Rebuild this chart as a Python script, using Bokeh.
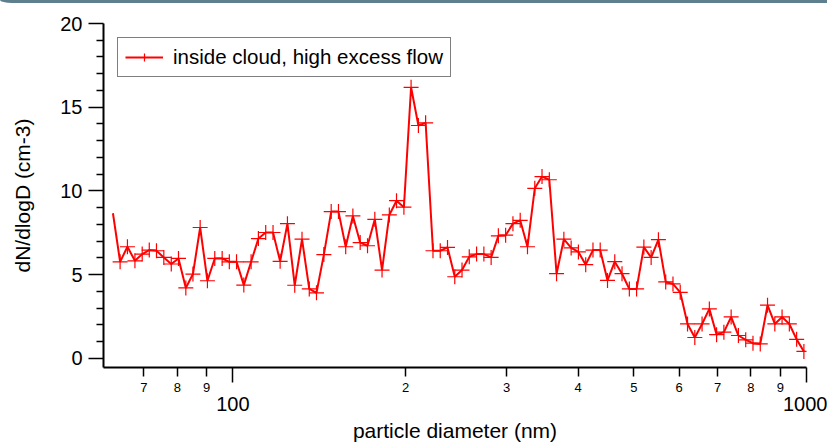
from bokeh.plotting import figure
from bokeh.models import (Range1d, LogAxis, FixedTicker, CustomJSTickFormatter,
                          Legend, LegendItem, Div)
from bokeh.layouts import column
from bokeh.embed import file_html
from bokeh.resources import INLINE

# ---- data ----
diameter_nm = [
    61.8, 63.6, 65.5, 67.5, 69.5, 71.5, 73.6, 75.8, 78.1, 80.4,
    82.8, 85.2, 87.7, 90.3, 93.0, 95.8, 98.6, 101.5, 104.5, 107.6,
    110.8, 114.1, 117.5, 120.9, 124.5, 128.2, 132.0, 135.9, 139.9, 144.1,
    148.4, 152.8, 157.3, 161.9, 166.7, 171.7, 176.8, 182.0, 187.4, 192.9,
    198.7, 204.5, 210.6, 216.8, 223.3, 229.9, 236.7, 243.7, 250.9, 258.3,
    266.0, 273.9, 282.0, 290.3, 298.9, 307.8, 316.9, 326.3, 336.0, 345.9,
    356.2, 366.7, 377.6, 388.8, 400.3, 412.2, 424.4, 436.9, 449.9, 463.2,
    476.9, 491.1, 505.6, 520.6, 536.0, 551.9, 568.3, 585.1, 602.4, 620.3,
    638.7, 657.6, 677.1, 697.1, 717.8, 739.0, 760.9, 783.5, 806.7, 830.6,
    855.2, 880.6, 906.6, 933.5, 961.2, 989.6,
]
dn_dlogd = [
    8.67, 5.77, 6.67, 5.83, 6.23, 6.47, 6.43, 6.03, 5.64, 5.97,
    4.21, 5.04, 7.82, 4.64, 5.97, 5.97, 5.77, 5.77, 4.38, 5.77,
    7.16, 7.52, 7.52, 5.80, 8.05, 4.37, 7.12, 4.15, 3.92, 6.20,
    8.77, 8.77, 6.67, 8.51, 6.92, 6.73, 8.31, 5.28, 8.57, 9.42,
    9.03, 16.19, 13.91, 14.07, 6.43, 6.43, 6.63, 4.88, 5.28, 6.07,
    6.23, 6.23, 6.03, 7.32, 7.36, 8.05, 8.25, 6.67, 10.16, 10.86,
    10.67, 5.06, 7.12, 6.60, 6.36, 5.60, 6.47, 6.47, 4.66, 5.78,
    5.06, 4.15, 4.15, 6.65, 6.03, 7.09, 4.57, 4.45, 3.95, 2.06,
    1.25, 2.06, 2.96, 1.42, 1.57, 2.48, 1.37, 1.11, 0.91, 0.87,
    3.18, 2.06, 2.48, 2.06, 1.14, 0.42,
]
series_label = "inside cloud, high excess flow"
x_title = "particle diameter (nm)"
y_title = "dN/dlogD (cm-3)"
x_major_ticks = [100, 1000]
x_minor_ticks = [70, 80, 90, 200, 300, 400, 500, 600, 700, 800, 900]
y_major_ticks = [0, 5, 10, 15, 20]
y_minor_ticks = [1, 2, 3, 4, 6, 7, 8, 9, 11, 12, 13, 14, 16, 17, 18, 19]

FONT = "Liberation Sans"
RED = "#ff0000"

p = figure(width=827, height=441, x_axis_type="log",
           x_range=Range1d(59.5, 1000), y_range=Range1d(-0.54, 20),
           output_backend="svg", toolbar_location=None,
           min_border_left=103, min_border_right=21,
           min_border_top=20, min_border_bottom=77)
p.outline_line_color = None
p.xgrid.visible = False
p.ygrid.visible = False
p.background_fill_color = "white"
p.border_fill_color = "white"

line_r = p.line(diameter_nm, dn_dlogd, line_color=RED, line_width=2)
scat_r = p.scatter(diameter_nm[1:], dn_dlogd[1:], marker="cross", size=15,
                   line_color=RED, line_width=1.2)

# inner x axis: minor decade labels (7, 8, 9, 2, 3 ...) + long ticks at decades
ax = p.xaxis[0]
ax.ticker = FixedTicker(ticks=x_minor_ticks, minor_ticks=x_major_ticks)
ax.formatter = CustomJSTickFormatter(code="""
const e = Math.floor(Math.log10(tick) + 1e-9);
return String(Math.round(tick / Math.pow(10, e)));
""")
ax.axis_line_color = "black"
ax.axis_line_width = 2
ax.major_tick_line_color = "black"
ax.major_tick_line_width = 1.5
ax.major_tick_out = 9
ax.major_tick_in = 0
ax.minor_tick_line_color = "black"
ax.minor_tick_line_width = 1.5
ax.minor_tick_out = 15
ax.minor_tick_in = 0
ax.major_label_text_font = FONT
ax.major_label_text_font_size = "13px"
ax.major_label_text_color = "black"
ax.major_label_standoff = 0

# outer x axis: decade labels and title
ax2 = LogAxis(ticker=FixedTicker(ticks=x_major_ticks, minor_ticks=[]),
              formatter=CustomJSTickFormatter(code="return String(Math.round(tick));"))
ax2.axis_line_color = None
ax2.major_tick_line_color = None
ax2.minor_tick_line_color = None
ax2.major_tick_out = 0
ax2.major_tick_in = 0
ax2.minor_tick_out = 0
ax2.minor_tick_in = 0
ax2.major_label_text_font = FONT
ax2.major_label_text_font_size = "20px"
ax2.major_label_text_color = "black"
ax2.major_label_standoff = 2
ax2.axis_label = x_title
ax2.axis_label_text_font = FONT
ax2.axis_label_text_font_size = "21px"
ax2.axis_label_text_font_style = "normal"
ax2.axis_label_text_color = "black"
ax2.axis_label_standoff = 5
p.add_layout(ax2, "below")

ay = p.yaxis[0]
ay.ticker = FixedTicker(ticks=y_major_ticks, minor_ticks=y_minor_ticks)
ay.axis_line_color = "black"
ay.axis_line_width = 2
ay.major_tick_line_color = "black"
ay.major_tick_line_width = 1.5
ay.major_tick_out = 15
ay.major_tick_in = 0
ay.minor_tick_line_color = "black"
ay.minor_tick_line_width = 1.5
ay.minor_tick_out = 7
ay.minor_tick_in = 0
ay.major_label_text_font = FONT
ay.major_label_text_font_size = "20px"
ay.major_label_text_color = "black"
ay.major_label_standoff = 6
ay.axis_label = y_title
ay.axis_label_text_font = FONT
ay.axis_label_text_font_size = "21px"
ay.axis_label_text_font_style = "normal"
ay.axis_label_text_color = "black"
ay.axis_label_standoff = 23

legend = Legend(items=[LegendItem(label=series_label, renderers=[line_r, scat_r])],
                location="top_left", margin=14, padding=7, spacing=0,
                glyph_width=38, glyph_height=20, label_standoff=10,
                label_text_font=FONT, label_text_font_size="20.5px",
                label_text_color="black",
                border_line_color="black", border_line_width=1.5,
                background_fill_color="white", background_fill_alpha=1.0)
p.add_layout(legend)

bar = Div(text="", width=827, height=3, margin=0,
          styles={"background-color": "#5e808e",
                  "border-bottom-left-radius": "12px 3px"})

layout = column(bar, p, spacing=0)

open("out.html", "w").write(file_html(layout, INLINE))
